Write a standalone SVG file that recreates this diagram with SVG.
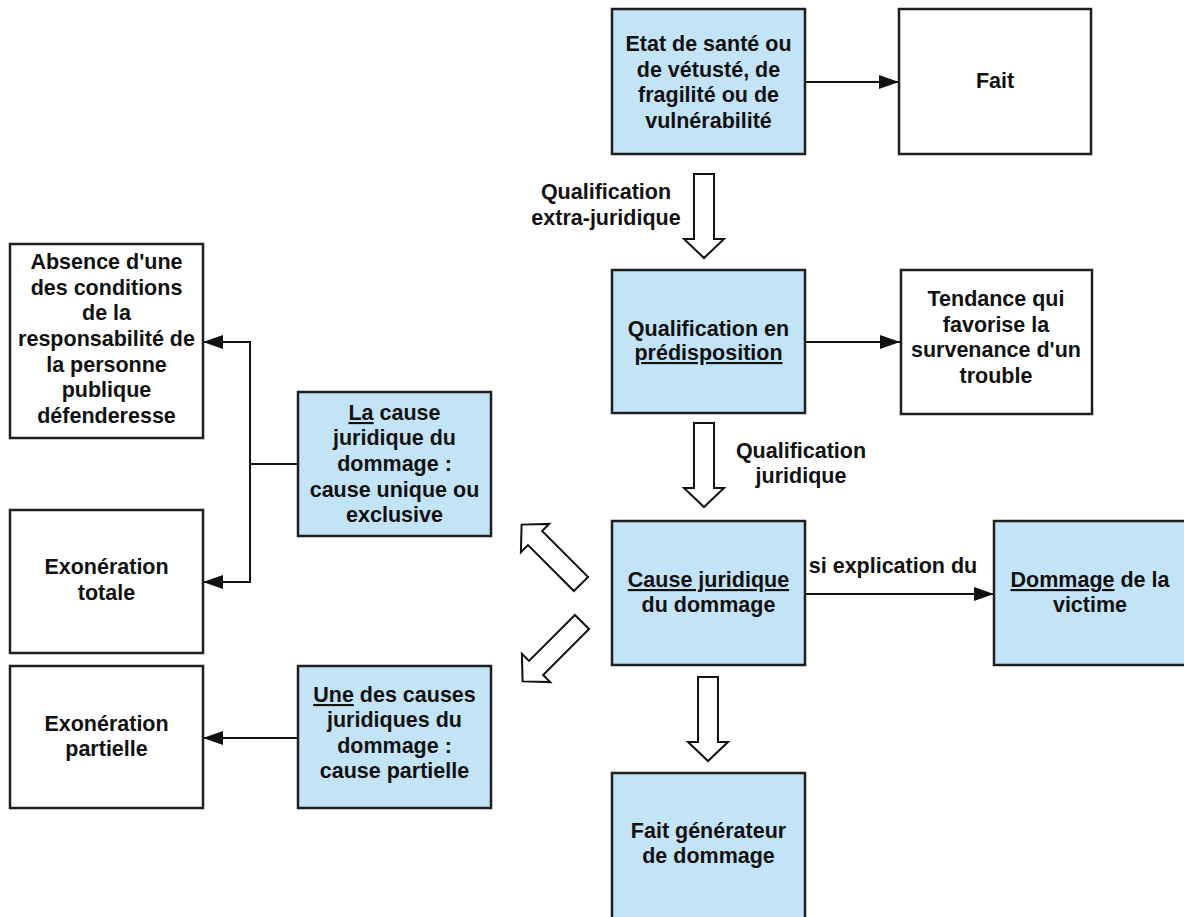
<svg xmlns="http://www.w3.org/2000/svg" width="1184" height="917" viewBox="0 0 1184 917">
<style>
.box{stroke:#1e1e1e;stroke-width:2.5}
.blue{fill:#c3e3f6}
.white{fill:#ffffff}
text{font-family:"Liberation Sans",Arial,sans-serif;font-weight:bold;font-size:21.5px;fill:#111;text-anchor:middle}
.line{fill:none;stroke:#111;stroke-width:2}
.hollow{fill:#ffffff;stroke:#111;stroke-width:2;stroke-linejoin:miter}
.u{text-decoration:underline}
</style>
<defs>
<marker id="ah" markerUnits="userSpaceOnUse" markerWidth="20" markerHeight="14" refX="20" refY="7" orient="auto">
<path d="M0,0 L20,7 L0,14 z" fill="#111"/>
</marker>
<polygon id="bigarrow" points="-10,0 10,0 10,65 20,65 0,84 -20,65 -10,65"/>
</defs>
<rect width="1184" height="917" fill="#ffffff"/>

<g id="connectors">
<line class="line" x1="805" y1="82" x2="899" y2="82" marker-end="url(#ah)"/>
<line class="line" x1="805" y1="342" x2="900" y2="342" marker-end="url(#ah)"/>
<line class="line" x1="805" y1="594" x2="994" y2="594" marker-end="url(#ah)"/>
<path class="line" d="M297,464 H250 V342 H203" marker-end="url(#ah)"/>
<path class="line" d="M250,464 V582 H203" marker-end="url(#ah)"/>
<line class="line" x1="297" y1="738" x2="203" y2="738" marker-end="url(#ah)"/>
<use href="#bigarrow" class="hollow" transform="translate(704,174)"/>
<use href="#bigarrow" class="hollow" transform="translate(704,423)"/>
<use href="#bigarrow" class="hollow" transform="translate(708,677)"/>
<use href="#bigarrow" class="hollow" transform="translate(581,584) rotate(135)"/>
<use href="#bigarrow" class="hollow" transform="translate(582,622) rotate(45)"/>
<text x="606" y="199">Qualification</text>
<text x="606" y="225">extra-juridique</text>
<text x="801" y="458">Qualification</text>
<text x="801" y="483">juridique</text>
<text x="893" y="573">si explication du</text>
</g>

<g id="etat">
<rect class="box blue" x="612" y="9" width="193" height="145"/>
<text x="708.5" y="51">Etat de santé ou</text>
<text x="708.5" y="77">de vétusté, de</text>
<text x="708.5" y="102">fragilité ou de</text>
<text x="708.5" y="128">vulnérabilité</text>
</g>

<g id="fait">
<rect class="box white" x="899" y="9" width="192" height="145"/>
<text x="995" y="88">Fait</text>
</g>

<g id="predisposition">
<rect class="box blue" x="612" y="270" width="193" height="143"/>
<text x="708.5" y="336">Qualification en</text>
<text x="708.5" y="360" class="u">prédisposition</text>
</g>

<g id="tendance">
<rect class="box white" x="901" y="270" width="191" height="144"/>
<text x="996" y="306">Tendance qui</text>
<text x="996" y="332">favorise la</text>
<text x="996" y="357">survenance d'un</text>
<text x="996" y="383">trouble</text>
</g>

<g id="cause">
<rect class="box blue" x="612" y="521" width="193" height="144"/>
<text x="708.5" y="587" class="u">Cause juridique</text>
<text x="708.5" y="612">du dommage</text>
</g>

<g id="dommage">
<rect class="box blue" x="994" y="521" width="193" height="144"/>
<text x="1090"  y="587"><tspan class="u">Dommage</tspan> de la</text>
<text x="1090" y="612">victime</text>
</g>

<g id="fait-generateur">
<rect class="box blue" x="612" y="773" width="193" height="150"/>
<text x="708.5" y="838">Fait générateur</text>
<text x="708.5" y="863">de dommage</text>
</g>

<g id="la-cause">
<rect class="box blue" x="298" y="392" width="193" height="144"/>
<text x="394.5" y="420"><tspan class="u">La</tspan> cause</text>
<text x="394.5" y="445">juridique du</text>
<text x="394.5" y="471">dommage :</text>
<text x="394.5" y="497">cause unique ou</text>
<text x="394.5" y="522">exclusive</text>
</g>

<g id="une-cause">
<rect class="box blue" x="298" y="666" width="193" height="142"/>
<text x="394.5" y="702"><tspan class="u">Une</tspan> des causes</text>
<text x="394.5" y="727">juridiques du</text>
<text x="394.5" y="753">dommage :</text>
<text x="394.5" y="778">cause partielle</text>
</g>

<g id="absence">
<rect class="box white" x="10" y="244" width="193" height="194"/>
<text x="106.5" y="269">Absence d'une</text>
<text x="106.5" y="295">des conditions</text>
<text x="106.5" y="320">de la</text>
<text x="106.5" y="346">responsabilité de</text>
<text x="106.5" y="372">la personne</text>
<text x="106.5" y="397">publique</text>
<text x="106.5" y="423">défenderesse</text>
</g>

<g id="exoneration-totale">
<rect class="box white" x="10" y="510" width="193" height="143"/>
<text x="106.5" y="574">Exonération</text>
<text x="106.5" y="600">totale</text>
</g>

<g id="exoneration-partielle">
<rect class="box white" x="10" y="666" width="193" height="142"/>
<text x="106.5" y="731">Exonération</text>
<text x="106.5" y="756">partielle</text>
</g>
</svg>
